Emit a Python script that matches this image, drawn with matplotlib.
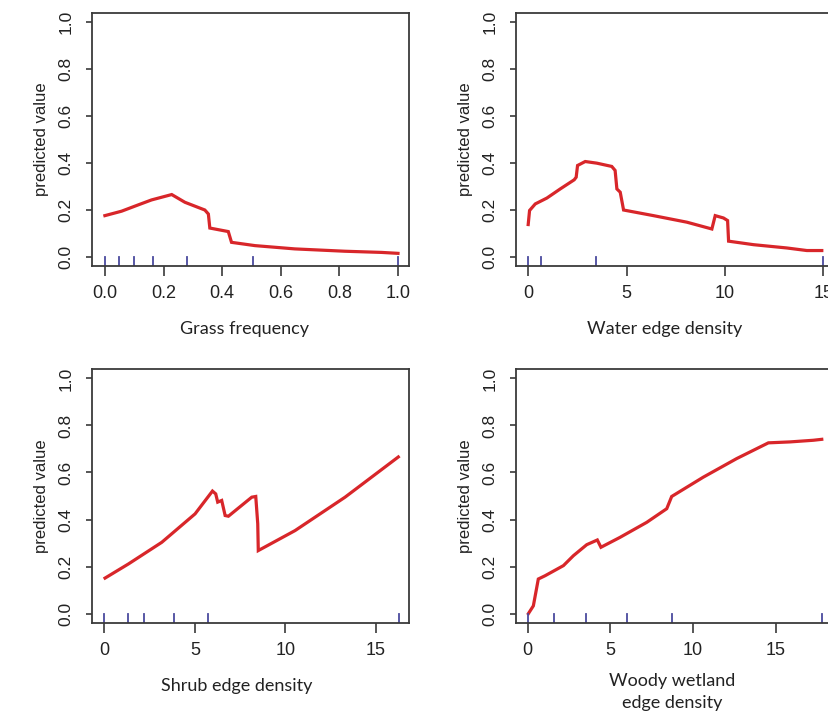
import matplotlib
matplotlib.use("Agg")
import matplotlib.pyplot as plt

# partial dependence curves
grass_x = [0.0, 0.057, 0.114, 0.159, 0.228, 0.273, 0.341, 0.353, 0.358, 0.421, 0.432, 0.512, 0.648, 0.819, 0.944, 1.0]
grass_y = [0.175, 0.194, 0.221, 0.242, 0.265, 0.232, 0.199, 0.182, 0.122, 0.107, 0.061, 0.047, 0.033, 0.023, 0.018, 0.014]
grass_rug = [0.0, 0.049, 0.1, 0.165, 0.279, 0.506, 1.0]

water_x = [0.0, 0.07, 0.36, 0.95, 1.63, 2.34, 2.44, 2.51, 2.9, 3.49, 4.25, 4.42, 4.51, 4.68, 4.85,
           6.37, 8.07, 9.34, 9.51, 9.93, 10.14, 10.19, 11.46, 13.15, 14.17, 14.93]
water_y = [0.137, 0.197, 0.225, 0.25, 0.289, 0.328, 0.339, 0.389, 0.406, 0.399, 0.385, 0.368, 0.289, 0.275, 0.199,
           0.175, 0.147, 0.118, 0.175, 0.165, 0.154, 0.066, 0.051, 0.037, 0.026, 0.026]
water_rug = [0.0, 0.66, 3.47, 15.0]

shrub_x = [0.04, 1.33, 3.17, 5.01, 5.97, 6.15, 6.26, 6.48, 6.67, 6.85, 8.14, 8.36, 8.47, 8.5, 10.53, 13.29, 16.23]
shrub_y = [0.151, 0.211, 0.303, 0.424, 0.521, 0.509, 0.474, 0.481, 0.417, 0.414, 0.495, 0.498, 0.382, 0.268, 0.353, 0.495, 0.666]
shrub_rug = [0.0, 1.31, 2.19, 3.85, 5.74, 16.27]

woody_x = [0.04, 0.34, 0.64, 1.05, 2.16, 2.76, 3.57, 4.21, 4.43, 5.58, 7.2, 8.41, 8.71, 10.62, 12.64, 14.56, 15.87, 17.28, 17.79]
woody_y = [0.0, 0.033, 0.147, 0.161, 0.204, 0.246, 0.293, 0.313, 0.282, 0.324, 0.388, 0.446, 0.498, 0.58, 0.659, 0.726, 0.73, 0.737, 0.741]
woody_rug = [0.0, 1.59, 3.51, 6.03, 8.75, 17.82]

W, H = 829, 713
fig = plt.figure(figsize=(W / 100, H / 100), dpi=100)
axcol = "#3a3a3a"

def panel(rect, xs, ys, rug, xlim, xticks, xticklabels, xlabel, lx, ly):
    l, t, r, b = rect
    ax = fig.add_axes([l / W, 1 - b / H, (r - l) / W, (b - t) / H])
    ax.plot(xs, ys, color="#d8262a", lw=2.3, solid_joinstyle="miter")
    for v in rug:
        ax.axvline(v, ymin=0, ymax=0.035, color="#4a4a9e", lw=1.3)
    ax.set_xlim(*xlim)
    ax.set_ylim(-0.04, 1.04)
    ax.set_xticks(xticks)
    ax.set_xticklabels(xticklabels, fontsize=13, family="Liberation Sans", color="#222222")
    ax.set_yticks([0, 0.2, 0.4, 0.6, 0.8, 1.0])
    ax.set_yticklabels(["0.0", "0.2", "0.4", "0.6", "0.8", "1.0"], fontsize=12.5,
                       family="Liberation Sans", rotation=90, va="center", color="#222222")
    ax.tick_params(axis="x", length=7.5, width=1.2, color=axcol, pad=6)
    ax.tick_params(axis="y", length=4.5, width=1.2, color=axcol, pad=9)
    for s in ax.spines.values():
        s.set_color(axcol)
        s.set_linewidth(1.3)
    ax.set_ylabel("predicted value", fontsize=12, family="Liberation Sans", labelpad=7, color="#222222")
    fig.text(lx / W, 1 - ly / H, xlabel, ha="center", va="center", fontsize=13,
             family="Lato", color="#222222", linespacing=1.45)
    return ax

panel((92, 13, 409, 266), grass_x, grass_y, grass_rug, (-0.044, 1.0375),
      [0, 0.2, 0.4, 0.6, 0.8, 1.0], ["0.0", "0.2", "0.4", "0.6", "0.8", "1.0"],
      "Grass frequency", 245, 329)
panel((516, 13, 833, 266), water_x, water_y, water_rug, (-0.62, 15.5),
      [0, 5, 10, 15], ["0", "5", "10", "15"],
      "Water edge density", 665, 329)
panel((92, 369, 409, 623), shrub_x, shrub_y, shrub_rug, (-0.68, 16.82),
      [0, 5, 10, 15], ["0", "5", "10", "15"],
      "Shrub edge density", 237, 686)
panel((516, 369, 833, 623), woody_x, woody_y, woody_rug, (-0.71, 18.47),
      [0, 5, 10, 15], ["0", "5", "10", "15"],
      "Woody wetland\nedge density", 672, 692)

fig.savefig("out.png", dpi=100)
